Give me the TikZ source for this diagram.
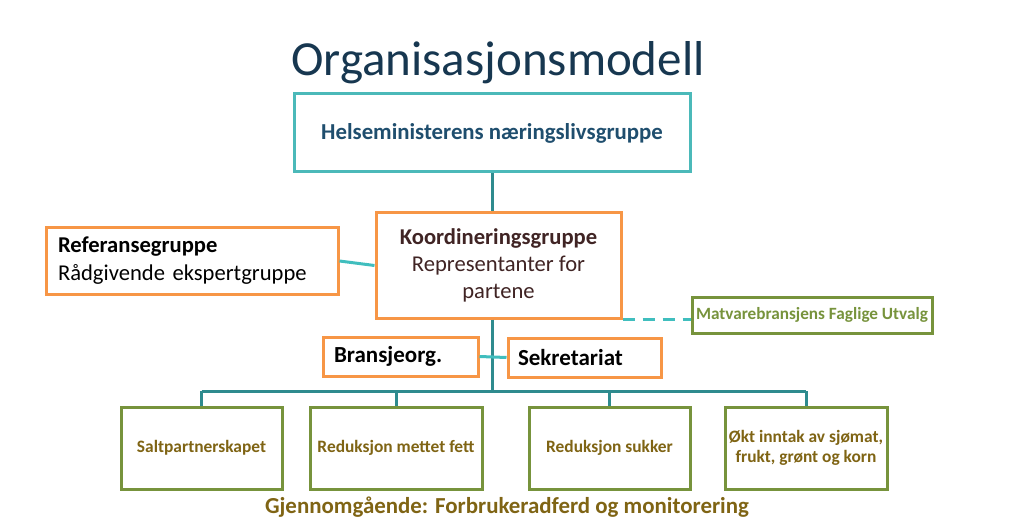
\documentclass[tikz,border=0pt]{standalone}
\usepackage{fontspec}
\setmainfont{Carlito}
\usepackage{tikz}
\usepackage{xcolor}
\usetikzlibrary{positioning, calc}
\definecolor{teal1}{RGB}{75, 185, 185}
\definecolor{tealline}{RGB}{46, 139, 142}
\definecolor{teallight}{RGB}{64, 190, 190}
\definecolor{orange1}{RGB}{247, 150, 70}
\definecolor{green1}{RGB}{119, 147, 60}
\definecolor{olive1}{RGB}{127, 100, 20}
\definecolor{navy1}{RGB}{23, 55, 80}
\definecolor{navy2}{RGB}{31, 78, 110}
\definecolor{brown1}{RGB}{64, 36, 36}

\tikzset{
  box/.style={rectangle, line width=3pt, fill=white, inner sep=0pt},
  tealbox/.style={box, draw=teal1, text=navy2},
  orangebox/.style={box, draw=orange1},
  greenbox/.style={box, draw=green1, text=olive1},
  link/.style={line width=3pt, draw=tealline},
  sidelink/.style={line width=3pt, draw=teallight}
}

\begin{document}
\begin{tikzpicture}[x=1pt, y=-1pt]

\useasboundingbox (0,0) rectangle (1024,526);

% Title
\node[text=navy1, font=\fontsize{49}{56}\selectfont] (title) at (498,63) {Organisasjonsmodell};

% Top level
\node[tealbox, minimum width=396pt, minimum height=78pt,
      font=\fontsize{22.8}{26}\selectfont\bfseries] (top) at (492,133)
      {Helseministerens næringslivsgruppe};

% Coordination group
\node[orangebox, minimum width=245pt, minimum height=105pt, align=center,
      font=\fontsize{22.6}{27}\selectfont, text=brown1] (koord) at (498.5,265.5)
      {\textbf{Koordineringsgruppe}\\Representanter for\\partene};

\node[orangebox, minimum width=292pt, minimum height=66pt,
      text width=268pt, align=left,
      font=\fontsize{22.6}{28}\selectfont] (ref) at (192,261)
      {\textbf{Referansegruppe}\\Rådgivende ekspertgruppe};

\node[greenbox, minimum width=240pt, minimum height=36pt, text=green1,
      font=\fontsize{17.2}{20}\selectfont\bfseries] (matv) at (812,315)
      {Matvarebransjens Faglige Utvalg};

% Support
\node[orangebox, minimum width=155pt, minimum height=39pt,
      text width=133pt, align=left,
      font=\fontsize{23}{26}\selectfont\bfseries] (bransj) at (400.5,356.5)
      {Bransjeorg.};

\node[orangebox, minimum width=153pt, minimum height=39pt,
      text width=133pt, align=left,
      font=\fontsize{23}{26}\selectfont\bfseries] (sekr) at (584.5,357.5)
      {Sekretariat};

% Partnerships
\node[greenbox, minimum width=161pt, minimum height=82pt,
      font=\fontsize{17.4}{20}\selectfont\bfseries] (salt) at (201.5,448)
      {Saltpartnerskapet};
\node[greenbox, minimum width=172pt, minimum height=82pt,
      font=\fontsize{17.4}{20}\selectfont\bfseries] (mettet) at (396,448)
      {Reduksjon mettet fett};
\node[greenbox, minimum width=161pt, minimum height=82pt,
      font=\fontsize{17.4}{20}\selectfont\bfseries] (sukker) at (609.5,448)
      {Reduksjon sukker};
\node[greenbox, minimum width=162pt, minimum height=82pt, align=center,
      font=\fontsize{17.4}{20.5}\selectfont\bfseries] (okt) at (806,448)
      {Økt inntak av sjømat,\\frukt, grønt og korn};

\node[text=olive1, font=\fontsize{22.9}{26}\selectfont\bfseries] (thru) at (507,507)
      {Gjennomgående: Forbrukeradferd og monitorering};

% Connectors
\coordinate (bus) at (492,391);
\draw[link] (top.south) -- (top.south |- koord.north);
\draw[link] (top.south |- koord.south) -- (bus);
\draw[link] (salt.north |- bus) -- (okt.north |- bus);
\foreach \n in {salt, mettet, sukker, okt} {
    \draw[link] (\n.north |- bus) -- (\n.north);
}
\draw[sidelink] (ref.east) -- (koord.west);
\draw[sidelink] (bransj.east) -- (sekr.west);
\draw[sidelink, dash pattern=on 12pt off 8pt] (koord.south east) -- (koord.south east -| matv.west);

\end{tikzpicture}
\end{document}
